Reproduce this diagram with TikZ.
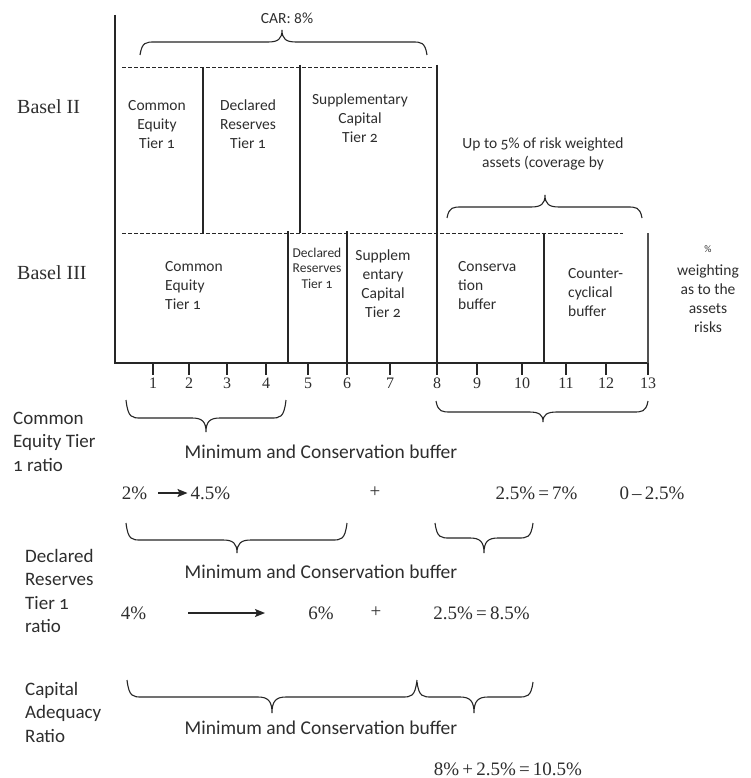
\documentclass[tikz,border=0pt]{standalone}
\usepackage{fontspec}
\setmainfont{Liberation Serif}
\newfontfamily\sansf[Numbers=OldStyle]{Carlito}
\usetikzlibrary{arrows.meta}
\definecolor{ink}{HTML}{262626}
\definecolor{txt}{HTML}{2E2E2E}
\newcommand\cbrace[6]{%
 \draw[bracestyle] (#1,#4) .. controls ({#1+2},#5) and ({#1+6},#5) .. ({#1+15},#5)
   -- ({#3-14},#5) .. controls ({#3-4},#5) and (#3,{#5+0.25*(#6-#5)}) .. (#3,#6)
   .. controls (#3,{#5+0.25*(#6-#5)}) and ({#3+4},#5) .. ({#3+14},#5)
   -- ({#2-15},#5) .. controls ({#2-6},#5) and ({#2-2},#5) .. (#2,#4);}
\begin{document}
\begin{tikzpicture}[x=1pt,y=-1pt,
  axisline/.style={draw=ink,line width=1.5pt},
  divline/.style={draw=ink,line width=1.2pt},
  dashline/.style={draw=ink,line width=1pt,dash pattern=on 4pt off 2pt},
  bracestyle/.style={draw=ink,line width=1.1pt},
  arr/.style={draw=ink,line width=1.4pt,-{Stealth[length=10pt,width=8pt,inset=2pt]}},
  box/.style={inner sep=0pt,text=txt,font=\sansf\fontsize{15.5}{19}\selectfont},
  boxs/.style={inner sep=0pt,text=txt,font=\sansf\fontsize{13.5}{15.5}\selectfont},
  side/.style={inner sep=0pt,text=txt,anchor=west,align=left,font=\sansf\fontsize{19}{23.5}\selectfont},
  minbuf/.style={inner sep=0pt,text=txt,font=\sansf\fontsize{19.5}{23}\selectfont},
  serifL/.style={inner sep=0pt,text=txt,font=\fontsize{20}{24}\selectfont},
  num/.style={inner sep=0pt,text=txt,font=\fontsize{19}{23}\selectfont},
  axnum/.style={inner sep=0pt,text=txt,font=\fontsize{16}{19}\selectfont}]
\useasboundingbox (0,0) rectangle (750,778);
\fill[white] (0,0) rectangle (750,778);

% axes
\draw[axisline] (115,15) -- (115,363) -- (648,363);
% dashed lines
\draw[dashline] (122,68) -- (433,68);
\draw[dashline] (122,233) -- (623,233);
% dividers
\draw[divline] (203,68) -- (203,233);
\draw[divline] (300,65) -- (300,233);
\draw[divline] (437,65) -- (437,363);
\draw[divline] (288,231) -- (288,363);
\draw[divline] (347,231) -- (347,363);
\draw[divline] (544,233) -- (544,363);
\draw[draw=ink!80,line width=1.8pt] (648,233) -- (648,363);
% ticks and numbers
\foreach \n/\x in {1/153,2/189,3/227,4/266,5/308,6/347,7/390,8/437,9/477,10/522,11/566,12/606,13/648}{
  \draw[divline] (\x,363) -- (\x,375);
  \node[axnum] (n\n) at (\x,383) {\n};
}

% braces
\cbrace{140}{427}{282}{55}{42}{30}
\cbrace{447}{642}{545}{218}{207}{195}
\cbrace{126}{286}{206}{400}{418}{432}
\cbrace{436}{648}{543}{401}{412}{422}
\cbrace{126}{347}{237}{523}{540}{553}
\cbrace{435}{533}{484}{523}{538}{553}
\cbrace{127}{417}{272}{680}{697}{713}
\cbrace{417}{533}{474}{682}{697}{713}

% labels
\node[serifL,anchor=west] (b2) at (17,107) {Basel II};
\node[serifL,anchor=west] (b3) at (17,273) {Basel III};
\node[box] (car) at (287,18) {CAR: 8\%};
\node[box,align=center] (b2cet) at (157,124.5) {Common\\Equity\\Tier 1};
\node[box,align=center] (b2dr) at (248,124.5) {Declared\\Reserves\\Tier 1};
\node[box,align=center] (b2sup) at (360,118) {Supplementary\\Capital\\Tier 2};
\node[box,align=center] (upto) at (543,154) {Up to 5\% of risk weighted\\assets (coverage by};
\node[box,align=left,anchor=west] (b3cet) at (165,286) {Common\\Equity\\Tier 1};
\node[boxs,align=center] (b3dr) at (317,268) {Declared\\Reserves\\Tier 1};
\node[box,align=center] (b3sup) at (383,283.5) {Supplem\\entary\\Capital\\Tier 2};
\node[box,align=left,anchor=west] (cons) at (458,286) {Conserva\\tion\\buffer};
\node[box,align=left,anchor=west] (ctr) at (568,293) {Counter-\\cyclical\\buffer};
\node[box,align=center] (wt) at (708,289) {{\fontsize{10}{12}\selectfont\%}\\[4pt]weighting\\as to the\\assets\\risks};

% left side labels
\node[side] (l1) at (13,441.5) {Common\\Equity Tier\\1 ratio};
\node[side] (l2) at (25,591) {Declared\\Reserves\\Tier 1\\ratio};
\node[side] (l3) at (25,712) {Capital\\Adequacy\\Ratio};

% minimum and conservation buffer
\node[minbuf] (m1) at (321,452) {Minimum and Conservation buffer};
\node[minbuf] (m2) at (321,572) {Minimum and Conservation buffer};
\node[minbuf] (m3) at (321,728) {Minimum and Conservation buffer};

% row 1
\node[num] (r1a) at (134.5,493) {2\%};
\node[num] (r1b) at (210.5,493) {4.5\%};
\draw[arr,shorten <=11pt,shorten >=3pt] (r1a.east) -- (r1b.west);
\node[num] (r1p) at (375,492) {+};
\node[num] (r1c) at (536.5,493) {2.5\%\,=\,7\%};
\node[num] (r1d) at (652,493) {0\,--\,2.5\%};

% row 2
\node[num] (r2a) at (133.5,613) {4\%};
\coordinate (a2s) at (188,613);
\coordinate (a2e) at (265,613);
\draw[arr] (a2s) -- (a2e);
\node[num] (r2b) at (321,613) {6\%};
\node[num] (r2p) at (376,612) {+};
\node[num] (r2c) at (481.5,613) {2.5\%\,=\,8.5\%};

% row 3
\node[num] (r3) at (508,769) {8\%\,+\,2.5\%\,=\,10.5\%};
\end{tikzpicture}
\end{document}
